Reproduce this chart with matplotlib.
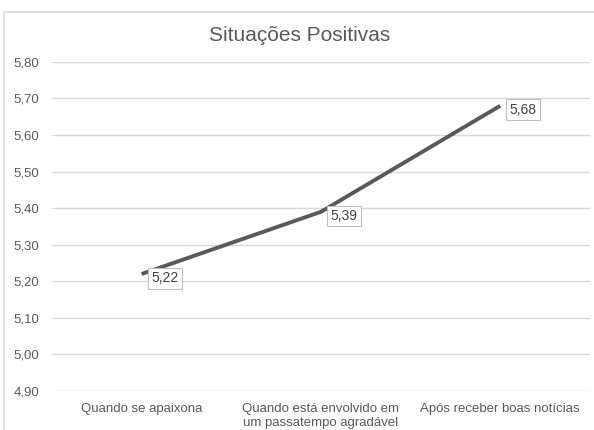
import matplotlib.pyplot as plt
from matplotlib.patches import Rectangle

plt.rcParams['font.family'] = ['Liberation Sans', 'DejaVu Sans']

categories = ['Quando se apaixona', 'Quando está envolvido em\num passatempo agradável',
              'Após receber boas notícias']
values = [5.22, 5.39, 5.68]
yticks = [4.90, 5.00, 5.10, 5.20, 5.30, 5.40, 5.50, 5.60, 5.70, 5.80]

gray = '#595959'

fig = plt.figure(figsize=(5.94, 4.30), dpi=100)
ax = fig.add_axes([0.0875, 0.0907, 0.9055, 0.7653])

# chart frame
fig.patches.append(Rectangle((4 / 594, -0.1), 1.2, 1 - 12 / 430 + 0.1,
                             transform=fig.transFigure, fill=False,
                             edgecolor='#d9d9d9', linewidth=1.2))

x = list(range(len(categories)))
ax.plot(x, values, color=gray, linewidth=2.8, solid_capstyle='butt')

for xi, v in zip(x, values):
    ax.annotate(f'{v:.2f}'.replace('.', ','), (xi, v), xytext=(7, -3),
                textcoords='offset points', ha='left', va='center',
                fontsize=10, color='#404040',
                bbox=dict(boxstyle='square,pad=0.25', fc='white', ec='#bfbfbf', lw=0.8))

ax.set_xlim(-0.5, 2.5)
ax.set_ylim(4.9, 5.8)
ax.set_yticks(yticks)
ax.set_yticklabels([f'{t:.2f}'.replace('.', ',') for t in yticks])
ax.set_xticks(x)
ax.set_xticklabels(categories)
ax.grid(axis='y', color='#d9d9d9', linewidth=1)
ax.set_axisbelow(True)
for s in ax.spines.values():
    s.set_visible(False)
ax.tick_params(length=0, colors=gray, labelsize=9.5)
ax.tick_params(axis='y', pad=9)
ax.tick_params(axis='x', pad=9)

fig.text(0.505, 0.918, 'Situações Positivas', ha='center', va='center',
         fontsize=15, color=gray)

fig.savefig('out.png', dpi=100)
